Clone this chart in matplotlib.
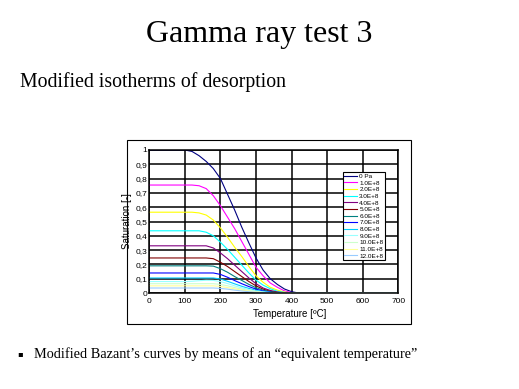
import numpy as np
import matplotlib
matplotlib.use('Agg')
import matplotlib.pyplot as plt
from matplotlib.patches import Rectangle

temps = [0, 100, 120, 140, 160, 180, 200, 220, 240, 260, 280, 300, 320, 340, 360, 380, 400, 420, 700]

labels = ['0 Pa', '1.0E+8', '2.0E+8', '3.0E+8', '4.0E+8', '5.0E+8', '6.0E+8',
          '7.0E+8', '8.0E+8', '9.0E+8', '10.0E+8', '11.0E+8', '12.0E+8']

colors = ['#000080', '#FF00FF', '#FFFF00', '#00FFFF', '#800080', '#800000', '#008080',
          '#0000FF', '#00CCFF', '#99FFFF', '#CCFFCC', '#FFFF99', '#99CCFF']

# saturation [-]
s_0 = [1.0, 1.0, 0.99, 0.96, 0.92, 0.87, 0.80, 0.69, 0.58, 0.46, 0.35, 0.245, 0.16, 0.10, 0.06, 0.028, 0.009, 0.0, 0.0]
s_1 = [0.755, 0.755, 0.755, 0.75, 0.73, 0.68, 0.61, 0.53, 0.45, 0.36, 0.27, 0.18, 0.12, 0.07, 0.04, 0.015, 0.003, 0.0, 0.0]
s_2 = [0.565, 0.565, 0.565, 0.56, 0.545, 0.51, 0.455, 0.39, 0.32, 0.255, 0.185, 0.12, 0.075, 0.04, 0.02, 0.007, 0.0, 0.0, 0.0]
s_3 = [0.435, 0.435, 0.435, 0.435, 0.425, 0.40, 0.355, 0.305, 0.25, 0.195, 0.14, 0.09, 0.055, 0.03, 0.012, 0.004, 0.0, 0.0, 0.0]
s_4 = [0.33, 0.33, 0.33, 0.33, 0.33, 0.315, 0.28, 0.24, 0.195, 0.15, 0.105, 0.065, 0.035, 0.018, 0.007, 0.002, 0.0, 0.0, 0.0]
s_5 = [0.245, 0.245, 0.245, 0.245, 0.245, 0.24, 0.215, 0.185, 0.15, 0.115, 0.08, 0.05, 0.027, 0.012, 0.004, 0.0, 0.0, 0.0, 0.0]
s_6 = [0.19, 0.19, 0.19, 0.19, 0.19, 0.188, 0.17, 0.145, 0.115, 0.088, 0.06, 0.037, 0.02, 0.009, 0.003, 0.0, 0.0, 0.0, 0.0]
s_7 = [0.14, 0.14, 0.14, 0.14, 0.14, 0.14, 0.13, 0.11, 0.087, 0.065, 0.045, 0.027, 0.014, 0.006, 0.0, 0.0, 0.0, 0.0, 0.0]
s_8 = [0.105, 0.105, 0.105, 0.105, 0.105, 0.105, 0.098, 0.082, 0.064, 0.047, 0.032, 0.019, 0.01, 0.004, 0.0, 0.0, 0.0, 0.0, 0.0]
s_9 = [0.08, 0.08, 0.082, 0.086, 0.089, 0.088, 0.08, 0.066, 0.05, 0.036, 0.024, 0.014, 0.007, 0.003, 0.0, 0.0, 0.0, 0.0, 0.0]
s_10 = [0.065, 0.065, 0.065, 0.065, 0.065, 0.065, 0.06, 0.05, 0.038, 0.027, 0.018, 0.01, 0.005, 0.0, 0.0, 0.0, 0.0, 0.0, 0.0]
s_11 = [0.05, 0.05, 0.05, 0.05, 0.05, 0.05, 0.046, 0.038, 0.029, 0.02, 0.013, 0.007, 0.003, 0.0, 0.0, 0.0, 0.0, 0.0, 0.0]
s_12 = [0.035, 0.035, 0.035, 0.035, 0.035, 0.035, 0.032, 0.027, 0.02, 0.014, 0.009, 0.005, 0.002, 0.0, 0.0, 0.0, 0.0, 0.0, 0.0]
series = [s_0, s_1, s_2, s_3, s_4, s_5, s_6, s_7, s_8, s_9, s_10, s_11, s_12]

xticks = [0, 100, 200, 300, 400, 500, 600, 700]
yticks = [0, 0.1, 0.2, 0.3, 0.4, 0.5, 0.6, 0.7, 0.8, 0.9, 1.0]
ytick_labels = ['0', '0,1', '0,2', '0,3', '0,4', '0,5', '0,6', '0,7', '0,8', '0,9', '1']

W, H = 519, 389
fig = plt.figure(figsize=(W / 100, H / 100), dpi=100)
fig.patch.set_facecolor('white')

def fx(px):
    return px / W

def fy(py):
    return 1 - py / H

# slide text
fig.text(fx(259), fy(41.7), 'Gamma ray test 3', family='Liberation Serif', fontsize=23,
         ha='center', va='baseline')
fig.text(fx(20), fy(87), 'Modified isotherms of desorption', family='Liberation Serif',
         fontsize=14.2, ha='left', va='baseline')
fig.text(fx(17.5), fy(354), '\u25aa', family=['DejaVu Sans'], fontsize=6, ha='left', va='center')
fig.text(fx(34.5), fy(358), 'Modified Bazant\u2019s curves by means of an \u201cequivalent temperature\u201d',
         family='Liberation Serif', fontsize=10.3, ha='left', va='baseline')

# chart area border
fig.patches.append(Rectangle((fx(126.5), fy(324)), fx(284.5), 184.5 / H, transform=fig.transFigure,
                             fill=False, edgecolor='black', linewidth=0.8))

ax = fig.add_axes([fx(149.3), fy(293), fx(398.3 - 149.3), (293 - 150) / H])
for s, c, lab in zip(series, colors, labels):
    ax.plot(temps, s, color=c, linewidth=0.8, label=lab)

ax.set_xlim(0, 700)
ax.set_ylim(0, 1)
ax.set_xticks(xticks)
ax.set_yticks(yticks)
ax.set_yticklabels(ytick_labels)
ax.grid(True, color='black', linewidth=1.1)
ax.set_axisbelow(True)
for sp in ax.spines.values():
    sp.set_linewidth(1.1)
ax.tick_params(axis='both', length=0, labelsize=6)
ax.tick_params(axis='x', pad=3.5)
ax.tick_params(axis='y', pad=1.5)
for t in ax.get_xticklabels() + ax.get_yticklabels():
    t.set_family('Liberation Sans')

ax.set_xlabel('Temperature [\u00baC]', family='Liberation Sans', fontsize=7)
ax.xaxis.set_label_coords((290 - 149.3) / (398.3 - 149.3), -0.11)
ax.set_ylabel('Saturation [-]', family='Liberation Sans', fontsize=7)
ax.yaxis.set_label_coords((132.5 - 149.3) / (398.3 - 149.3), 0.5)

leg = ax.legend(loc='upper left', bbox_to_anchor=((342.7 - 149.3) / 249, (293 - 172.3) / 143),
                handlelength=2.1, handletextpad=0.3, labelspacing=0.18,
                borderpad=0.2, borderaxespad=0, frameon=True, fancybox=False,
                prop={'family': 'Liberation Sans', 'size': 4.6})
leg.get_frame().set_edgecolor('black')
leg.get_frame().set_linewidth(0.8)
leg.get_frame().set_alpha(1)

fig.savefig('out.png', dpi=100, facecolor='white')
